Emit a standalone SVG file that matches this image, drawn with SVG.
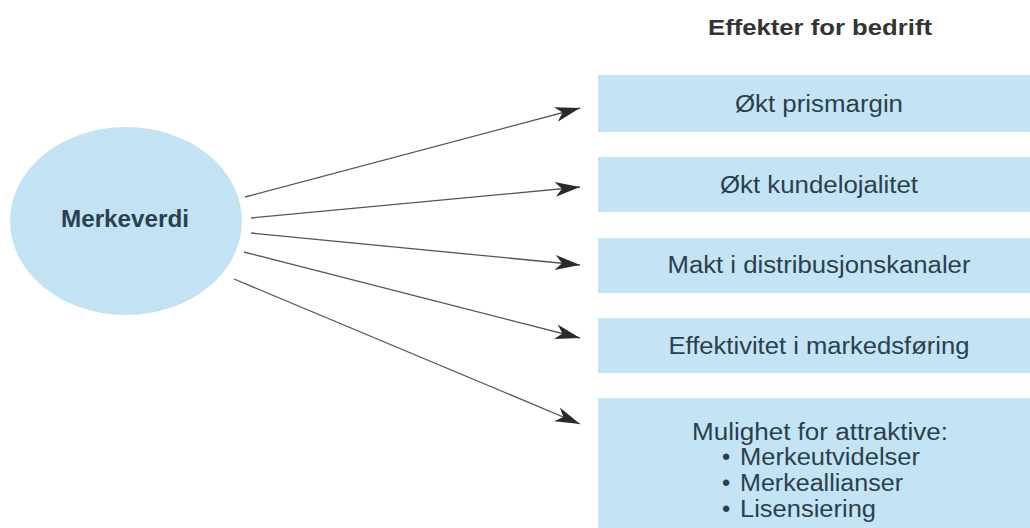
<svg xmlns="http://www.w3.org/2000/svg" width="1030" height="528" viewBox="0 0 1030 528">
  <style>
    .box { fill: #c4e4f6; }
    .lbl { font-family: "Liberation Sans", Arial, sans-serif; font-size: 23.5px; fill: #2b404c; }
    .bold { font-family: "Liberation Sans", Arial, sans-serif; font-weight: bold; fill: #333; }
    .conn { stroke: #555; stroke-width: 1.3; fill: none; marker-end: url(#arrow); }
  </style>
  <defs>
    <marker id="arrow" markerUnits="userSpaceOnUse" viewBox="-26 -9 28 18" markerWidth="28" markerHeight="18" refX="0" refY="0" orient="auto">
      <path d="M0,0 L-25,-7.5 L-18,0 L-25,7.5 Z" fill="#2a2a2a"/>
    </marker>
  </defs>
  <rect width="1030" height="528" fill="#ffffff"/>

  <text id="title" class="bold" x="820" y="35" font-size="21.5" text-anchor="middle" textLength="224" lengthAdjust="spacingAndGlyphs">Effekter for bedrift</text>

  <g id="merkeverdi">
    <ellipse cx="126" cy="221" rx="116" ry="94" fill="#c3e3f5"/>
    <text class="bold" x="125" y="227" font-size="24" text-anchor="middle" style="fill:#2b404c" textLength="128" lengthAdjust="spacingAndGlyphs">Merkeverdi</text>
  </g>

  <g id="box1">
    <rect class="box" x="598" y="75" width="440" height="57"/>
    <text class="lbl" x="819" y="112" text-anchor="middle" textLength="168" lengthAdjust="spacingAndGlyphs">Økt prismargin</text>
  </g>
  <g id="box2">
    <rect class="box" x="598" y="157" width="440" height="55"/>
    <text class="lbl" x="819" y="193" text-anchor="middle" textLength="198" lengthAdjust="spacingAndGlyphs">Økt kundelojalitet</text>
  </g>
  <g id="box3">
    <rect class="box" x="598" y="238" width="440" height="55"/>
    <text class="lbl" x="819" y="273" text-anchor="middle" textLength="303" lengthAdjust="spacingAndGlyphs">Makt i distribusjonskanaler</text>
  </g>
  <g id="box4">
    <rect class="box" x="598" y="318" width="440" height="55"/>
    <text class="lbl" x="819" y="354" text-anchor="middle" textLength="301" lengthAdjust="spacingAndGlyphs">Effektivitet i markedsføring</text>
  </g>
  <g id="box5">
    <rect class="box" x="598" y="398" width="440" height="140"/>
    <text class="lbl" x="820" y="440" text-anchor="middle" textLength="256" lengthAdjust="spacingAndGlyphs">Mulighet for attraktive:</text>
    <text class="lbl" x="722" y="465">•</text>
    <text class="lbl" x="740" y="465" textLength="180" lengthAdjust="spacingAndGlyphs">Merkeutvidelser</text>
    <text class="lbl" x="722" y="491">•</text>
    <text class="lbl" x="740" y="491" textLength="163" lengthAdjust="spacingAndGlyphs">Merkeallianser</text>
    <text class="lbl" x="722" y="517">•</text>
    <text class="lbl" x="740" y="517" textLength="136" lengthAdjust="spacingAndGlyphs">Lisensiering</text>
  </g>

  <g id="connectors">
    <line class="conn" x1="245" y1="197" x2="580" y2="108"/>
    <line class="conn" x1="251" y1="218" x2="580" y2="187"/>
    <line class="conn" x1="251" y1="233" x2="580" y2="265"/>
    <line class="conn" x1="244" y1="252" x2="580" y2="338"/>
    <line class="conn" x1="234" y1="279" x2="580" y2="424"/>
  </g>
</svg>
